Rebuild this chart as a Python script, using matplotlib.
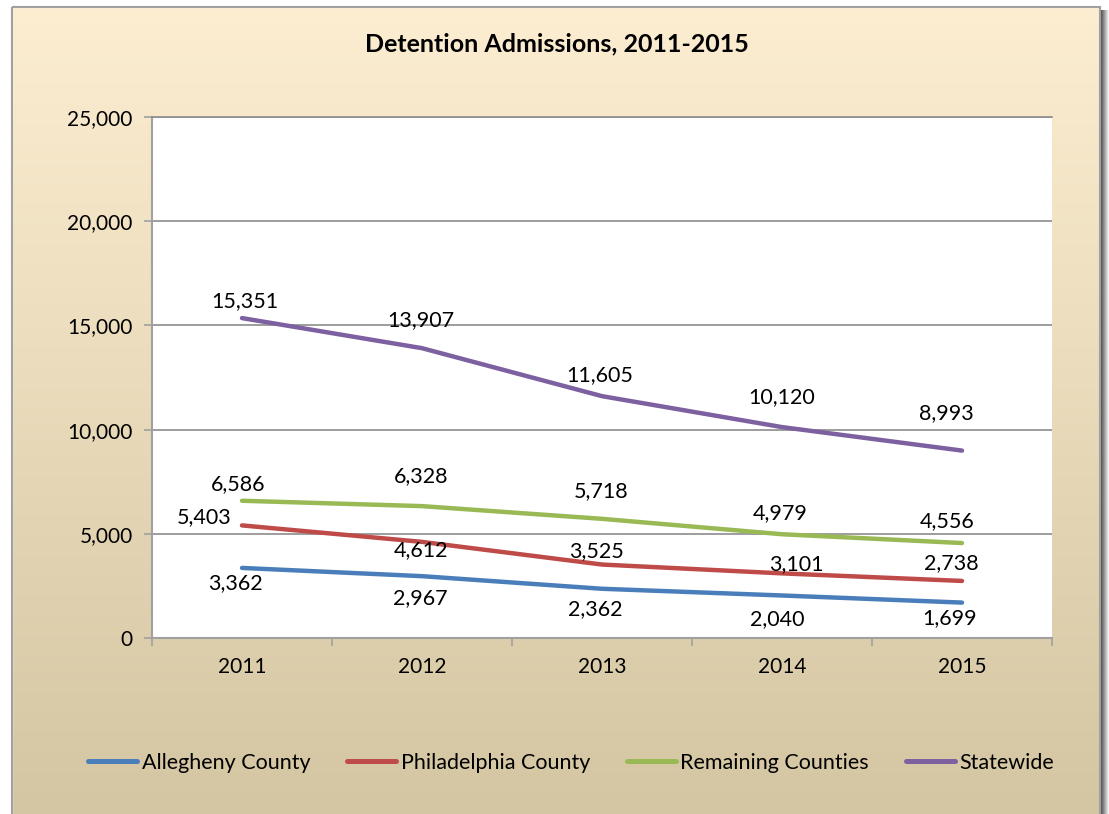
import numpy as np
import matplotlib
matplotlib.use("Agg")
import matplotlib.pyplot as plt
from matplotlib.patches import Rectangle
from matplotlib.ticker import FuncFormatter

plt.rcParams['font.family'] = ['Lato', 'DejaVu Sans']

years = ['2011', '2012', '2013', '2014', '2015']
allegheny = [3362, 2967, 2362, 2040, 1699]
philadelphia = [5403, 4612, 3525, 3101, 2738]
remaining = [6586, 6328, 5718, 4979, 4556]
statewide = [15351, 13907, 11605, 10120, 8993]

series = [
    ('Allegheny County', allegheny, '#4A7EBB'),
    ('Philadelphia County', philadelphia, '#BE4B48'),
    ('Remaining Counties', remaining, '#98B954'),
    ('Statewide', statewide, '#7D60A0'),
]

# label offsets in pixels (dx, dy up positive)
label_offsets = {
    'Allegheny County': [(-7, -15), (-2, -22), (-7, -20), (-5, -24), (-12, -16)],
    'Philadelphia County': [(-38, 8), (-1, -8), (-6, 13), (14, 9), (-11, 18)],
    'Remaining Counties': [(-4, 17), (-1, 30), (-1, 28), (-2, 21), (-15, 22)],
    'Statewide': [(3, 17), (-1, 28), (-2, 21), (0, 30), (-16, 37)],
}

W, H = 1109, 814
fig = plt.figure(figsize=(W / 100, H / 100), dpi=100)

# background gradient
bg = fig.add_axes([0, 0, 1, 1], zorder=-10)
top = np.array([253, 238, 210]) / 255
bot = np.array([212, 198, 162]) / 255
t = np.linspace(0, 1, 256)[:, None]
grad = (top[None, :] * (1 - t) + bot[None, :] * t)[:, None, :]
bg.imshow(grad, aspect='auto', extent=[0, W, H, 0])
bg.add_patch(Rectangle((0, 0), 12, H, color='white', zorder=2))
bg.add_patch(Rectangle((0, 0), W, 7, color='white', zorder=2))
bg.add_patch(Rectangle((1100, 0), 9, H, color='white', zorder=2))
shade = np.linspace(0.35, 0.95, 8)[None, :, None] * np.ones((1, 1, 3))
bg.imshow(shade, aspect='auto', extent=[1101, 1109, H, 10], zorder=3)
bg.add_patch(Rectangle((12, 7), 1088, H, fill=False, edgecolor='#A0A0A0', lw=1.5, zorder=4))
bg.set_xlim(0, W)
bg.set_ylim(H, 0)
bg.axis('off')

ax = fig.add_axes([152 / W, 1 - 638 / H, (1052 - 152) / W, (638 - 117) / H])
ax.set_facecolor('white')
x = np.arange(len(years))
for name, vals, color in series:
    ax.plot(x, vals, color=color, lw=3.2, solid_capstyle='round', label=name, zorder=3)
    for i, v in enumerate(vals):
        dx, dy = label_offsets[name][i]
        ax.annotate(f'{v:,}', (x[i], v), xytext=(dx * 0.72, dy * 0.72),
                    textcoords='offset points', ha='center', va='center',
                    fontsize=15.5, color='black', zorder=4)

ax.set_xlim(-0.5, len(years) - 0.5)
ax.set_ylim(0, 25000)
ax.set_yticks(np.arange(0, 25001, 5000))
ax.yaxis.set_major_formatter(FuncFormatter(lambda v, p: f'{int(v):,}'))
ax.set_xticks(x)
ax.set_xticklabels(years)
ax.set_xticks(np.arange(-0.5, len(years), 1), minor=True)
ax.tick_params(axis='x', which='major', length=0, pad=14, labelsize=15)
ax.tick_params(axis='x', which='minor', length=6, color='#A0A0A0', width=1.2, direction='out')
ax.tick_params(axis='y', length=6, color='#A0A0A0', width=1.2, labelsize=15, pad=8)
ax.grid(axis='y', color='#8C8C8C', lw=1.2)
ax.set_axisbelow(True)
ax.spines['right'].set_visible(False)
ax.spines['top'].set_color('#8C8C8C')
ax.spines['top'].set_linewidth(1.2)
for s in ['left', 'bottom']:
    ax.spines[s].set_color('#A0A0A0')
    ax.spines[s].set_linewidth(1.5)

fig.text(0.502, 1 - 44 / H, 'Detention Admissions, 2011-2015', ha='center', va='center',
         fontsize=18, fontweight='bold')

fig.legend(loc='center', bbox_to_anchor=(571 / W, 1 - 763 / H), ncol=4, frameon=False,
           fontsize=15.5, handlelength=2.3, handletextpad=0.2, columnspacing=1.7)
for ln in fig.legends[0].get_lines():
    ln.set_linewidth(3.6)

fig.savefig('out.png', dpi=100)
